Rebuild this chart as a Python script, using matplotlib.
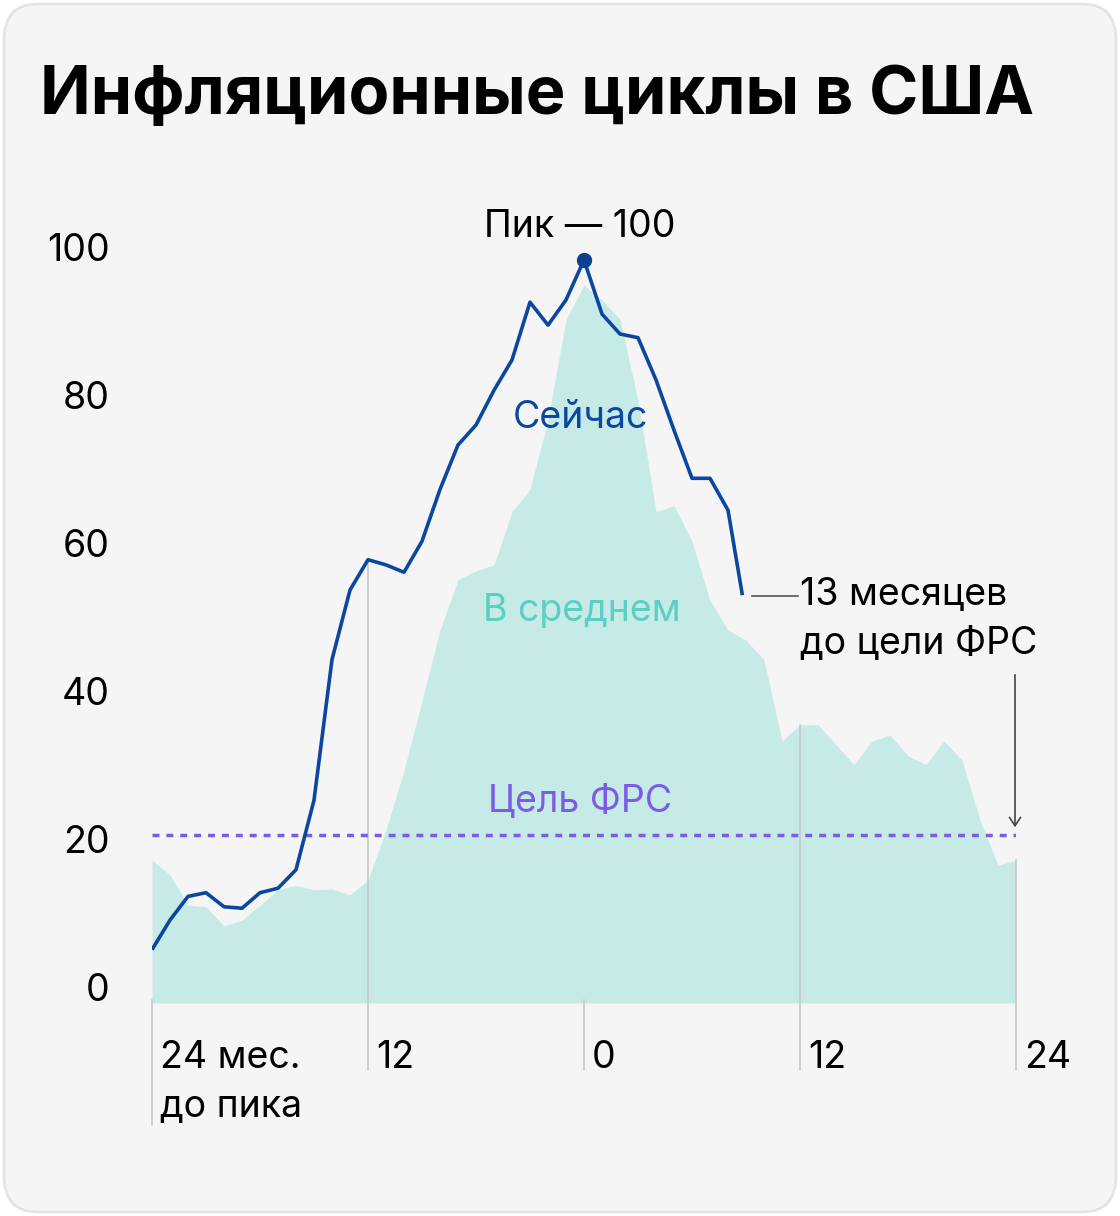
import matplotlib
matplotlib.use("Agg")
import matplotlib.pyplot as plt
from matplotlib.patches import FancyBboxPatch

plt.rcParams["font.family"] = "Inter"

now_x = [-24,-23,-22,-21,-20,-19,-18,-17,-16,-15,-14,-13,-12,-11,-10,-9,-8,-7,-6,-5,-4,-3,-2,-1,0,1,2,3,4,5,6,7,8,8.8]
now_y = [6.8,10.8,14,14.5,12.6,12.4,14.5,15.1,17.6,27,46,55.4,59.5,58.8,57.8,62,69,75,77.7,82.4,86.5,94.3,91.2,94.6,100,92.7,90,89.5,83.8,77,70.5,70.5,66.2,54.7]
avg_x = list(range(-24, 25))
avg_y = [18.9,16.9,12.8,12.6,10,10.8,12.8,14.9,15.5,14.9,15,14.2,16.2,23,31,40.5,50,56.8,58,58.8,66,69,78.4,92,96.6,94.6,92,81,66,66.8,62,54,50,48.6,46,35,37.2,37.2,34.5,31.8,35,35.8,33,31.8,35,32.4,24.3,18.2,18.9]
target = 22.3
y_ticks = [0, 20, 40, 60, 80, 100]
x_ticks = [-24, -12, 0, 12, 24]
x_labels = ["24 мес.\nдо пика", "12", "0", "12", "24"]

W, H = 1120, 1216
fig = plt.figure(figsize=(W/100, H/100), dpi=100)
fig.patch.set_facecolor("white")
bg = FancyBboxPatch((4/W, 4/H), 1-8/W, 1-8/H, boxstyle="round,pad=0,rounding_size=0.03",
                    transform=fig.transFigure, facecolor="#f5f5f5", edgecolor="#e4e4e4", lw=2, zorder=-10)
fig.patches.append(bg)

def vy(v):  # value -> pixel y from top
    return 1000 - 7.4*v
ybot, ytop = (1000-1003)/7.4, (1000-200)/7.4
ax = fig.add_axes([152/W, (H-1003)/H, 864/W, 803/H])
ax.set_zorder(1)
ax.patch.set_visible(False)
ax.set_xlim(-24, 24); ax.set_ylim(ybot, ytop)
ax.axis("off")

ax.fill_between(avg_x, ybot, avg_y, color="#c6ebe7", lw=0, zorder=1)
grid_top = {-24: 0, -12: 59.5, 0: 0, 12: 37.2, 24: 18.9}
for x in x_ticks:
    lo = -16.9 if x == -24 else -9.5
    ax.plot([x, x], [lo, grid_top[x]], color="#c8c8c8", lw=1.2, clip_on=False, zorder=2)
ax.plot([-24, 24], [target, target], color="#7b5ce6", lw=2.5, ls=(0, (2, 2)), zorder=3)
ax.plot(now_x, now_y, color="#0b47a0", lw=2.6, zorder=4, solid_capstyle="butt")
ax.plot([0], [100], "o", color="#0b3f8f", ms=10, zorder=5, clip_on=False)

for xv, lab in zip(x_ticks, x_labels):
    fig.text((152 + (xv+24)*18 + 8)/W, 1 - 1040/H, lab, ha="left", va="top", fontsize=27, linespacing=1.45)
for v in y_ticks:
    fig.text(110/W, 1 - (vy(v) - 9)/H, str(v), ha="right", va="center", fontsize=27)

fig.text(40/W, 1 - 97/H, "Инфляционные циклы в США", fontsize=48, fontweight="bold", va="center", ha="left")
fig.text(580/W, 1 - 227/H, "Пик — 100", fontsize=27, ha="center", va="center")
fig.text(580/W, 1 - 418/H, "Сейчас", fontsize=27, ha="center", va="center", color="#0b47a0")
fig.text(582/W, 1 - 611/H, "В среднем", fontsize=27, ha="center", va="center", color="#5bcfc3")
fig.text(580/W, 1 - 802/H, "Цель ФРС", fontsize=27, ha="center", va="center", color="#7b5ce6")
fig.text(800/W, 1 - 577/H, "13 месяцев\nдо цели ФРС", fontsize=27, ha="left", va="top", linespacing=1.45)
fig.add_artist(plt.Line2D([752/W, 798/W], [1-596/H, 1-596/H], color="#555555", lw=1.2))
fig.add_artist(matplotlib.patches.FancyArrowPatch((1015/W, 1-672/H), (1015/W, 1-830/H), transform=fig.transFigure,
               arrowstyle="->,head_length=6,head_width=4", color="#444444", lw=1.2))

fig.savefig("out.png", dpi=100)
